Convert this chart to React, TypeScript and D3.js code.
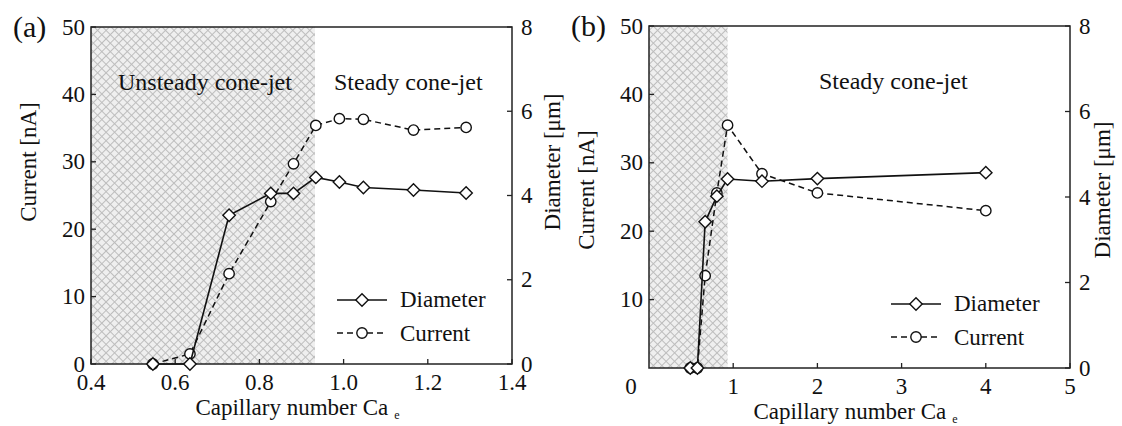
import React from "react";
import * as d3 from "d3";

// ---------- data ----------
const capA = [0.547, 0.635, 0.728, 0.827, 0.881, 0.934, 0.99, 1.047, 1.166, 1.291];
const diameterA = [0, 0, 3.53, 4.05, 4.05, 4.43, 4.32, 4.19, 4.13, 4.06];
const currentA = [0, 1.5, 13.4, 24.1, 29.7, 35.4, 36.4, 36.3, 34.7, 35.1];

const capB = [0.49, 0.575, 0.667, 0.806, 0.933, 1.342, 2.0, 4.0];
const diameterB = [0, 0, 3.42, 4.02, 4.42, 4.37, 4.43, 4.57];
const currentB = [0, 0, 13.5, 25.6, 35.5, 28.4, 25.6, 23.0];

const xTicksA = [0.4, 0.6, 0.8, 1.0, 1.2, 1.4];
const xTicksB = [1, 2, 3, 4, 5];
const currentTicksA = [0, 10, 20, 30, 40, 50];
const currentTicksB = [10, 20, 30, 40, 50];
const diameterTicks = [0, 2, 4, 6, 8];

const FONT = "Liberation Serif, Times New Roman, DejaVu Serif, serif";

type PanelProps = {
  letter: string;
  left: number;
  right: number;
  top: number;
  bottom: number;
  xDomain: [number, number];
  xTicks: number[];
  xFmt: (v: number) => string;
  cTicks: number[];
  caps: number[];
  diam: number[];
  curr: number[];
  unsteadyEnd: number;
  regionLabels: { text: string; x: number }[];
  legendX: number;
  legendY: number;
  titleY: number;
  rightTitleX: number;
  zeroLabel?: { x: number };
};

function Panel(p: PanelProps) {
  const x = d3.scaleLinear().domain(p.xDomain).range([p.left, p.right]);
  const yC = d3.scaleLinear().domain([0, 50]).range([p.bottom, p.top]);
  const yD = d3.scaleLinear().domain([0, 8]).range([p.bottom, p.top]);
  const idx = d3.range(p.caps.length);
  const lineD = d3
    .line<number>()
    .x((i) => x(p.caps[i]))
    .y((i) => yD(p.diam[i]))(idx);
  const lineC = d3
    .line<number>()
    .x((i) => x(p.caps[i]))
    .y((i) => yC(p.curr[i]))(idx);
  const dia = (cx: number, cy: number, s = 6.2) =>
    `M${cx},${cy - s}L${cx + s},${cy}L${cx},${cy + s}L${cx - s},${cy}Z`;
  const fs = 23;
  const tickLen = 5;
  const tStyle = { fontFamily: FONT, fontSize: fs, fill: "#111" } as React.CSSProperties;
  return (
    <g>
      <rect
        x={p.left}
        y={p.top}
        width={x(p.unsteadyEnd) - p.left}
        height={p.bottom - p.top}
        fill={`url(#hatch)`}
      />
      <rect
        x={p.left}
        y={p.top}
        width={p.right - p.left}
        height={p.bottom - p.top}
        fill="none"
        stroke="#222"
        strokeWidth={1.5}
      />
      {p.xTicks.map((t) => (
        <g key={"xt" + t}>
          <line x1={x(t)} x2={x(t)} y1={p.bottom} y2={p.bottom - tickLen} stroke="#222" strokeWidth={1.3} />
          <text x={x(t)} y={p.bottom + 26} textAnchor="middle" style={tStyle}>
            {p.xFmt(t)}
          </text>
        </g>
      ))}
      {p.zeroLabel && (
        <text x={p.zeroLabel.x} y={p.bottom + 26} textAnchor="middle" style={tStyle}>
          0
        </text>
      )}
      {p.cTicks.map((t) => (
        <g key={"yc" + t}>
          <line x1={p.left} x2={p.left + tickLen} y1={yC(t)} y2={yC(t)} stroke="#222" strokeWidth={1.3} />
          <text x={p.left - 6} y={yC(t)} dy="0.33em" textAnchor="end" style={tStyle}>
            {t}
          </text>
        </g>
      ))}
      {diameterTicks.map((t) => (
        <g key={"yd" + t}>
          <line x1={p.right} x2={p.right - tickLen} y1={yD(t)} y2={yD(t)} stroke="#222" strokeWidth={1.3} />
          <text x={p.right + 9} y={yD(t)} dy="0.33em" textAnchor="start" style={tStyle}>
            {t}
          </text>
        </g>
      ))}
      <text transform={`translate(${p.left - 55},${p.titleY}) rotate(-90)`} textAnchor="middle" style={tStyle}>
        Current [nA]
      </text>
      <text transform={`translate(${p.rightTitleX},${p.titleY}) rotate(-90)`} textAnchor="middle" style={tStyle}>
        Diameter [μm]
      </text>
      <text x={(p.left + p.right) / 2 - 4} y={p.bottom + 51} textAnchor="middle" style={tStyle}>
        Capillary number Ca
        <tspan style={{ fontSize: 12 }} dx={6} dy={4}>
          e
        </tspan>
      </text>
      <text x={p.left - 78} y={p.top + 10} style={{ ...tStyle, fontSize: 30 }}>
        {p.letter}
      </text>
      {p.regionLabels.map((r) => (
        <text key={r.text} x={r.x} y={p.top + 63} style={{ ...tStyle, fontSize: 24 }}>
          {r.text}
        </text>
      ))}
      <path d={lineC || ""} fill="none" stroke="#111" strokeWidth={1.5} strokeDasharray="6,4" />
      {idx.map((i) => (
        <circle key={"c" + i} cx={x(p.caps[i])} cy={yC(p.curr[i])} r={5.2} fill="#fff" stroke="#111" strokeWidth={1.4} />
      ))}
      <path d={lineD || ""} fill="none" stroke="#111" strokeWidth={1.6} />
      {idx.map((i) => (
        <path key={"d" + i} d={dia(x(p.caps[i]), yD(p.diam[i]))} fill="#fff" stroke="#111" strokeWidth={1.4} />
      ))}
      <g>
        <line x1={p.legendX} x2={p.legendX + 50} y1={p.legendY} y2={p.legendY} stroke="#111" strokeWidth={1.6} />
        <path d={dia(p.legendX + 25, p.legendY)} fill="#fff" stroke="#111" strokeWidth={1.4} />
        <text x={p.legendX + 63} y={p.legendY + 7} style={tStyle}>
          Diameter
        </text>
        <line
          x1={p.legendX}
          x2={p.legendX + 50}
          y1={p.legendY + 33}
          y2={p.legendY + 33}
          stroke="#111"
          strokeWidth={1.5}
          strokeDasharray="6,4"
        />
        <circle cx={p.legendX + 25} cy={p.legendY + 33} r={5.2} fill="#fff" stroke="#111" strokeWidth={1.4} />
        <text x={p.legendX + 63} y={p.legendY + 41} style={tStyle}>
          Current
        </text>
      </g>
    </g>
  );
}

export default function App() {
  return (
    <svg width={1122} height={426} style={{ display: "block", position: "absolute", left: 0, top: 0 }}>
      <defs>
        <pattern id="hatch" width={6} height={6} patternUnits="userSpaceOnUse" patternTransform="rotate(45)">
          <rect width={6} height={6} fill="#efefef" />
          <path d="M0,0.5H6M0.5,0V6" stroke="#bdbdbd" strokeWidth={1} />
        </pattern>
      </defs>
      <rect width={1122} height={426} fill="#fff" />
      <Panel
        letter="(a)"
        left={91}
        right={512}
        top={27}
        bottom={364}
        xDomain={[0.4, 1.4]}
        xTicks={xTicksA}
        xFmt={(v) => v.toFixed(1)}
        cTicks={currentTicksA}
        caps={capA}
        diam={diameterA}
        curr={currentA}
        unsteadyEnd={0.932}
        regionLabels={[
          { text: "Unsteady cone-jet", x: 118 },
          { text: "Steady cone-jet", x: 334 },
        ]}
        legendX={337}
        legendY={300}
        titleY={162}
        rightTitleX={560}
      />
      <Panel
        letter="(b)"
        left={649}
        right={1070}
        top={26}
        bottom={368}
        xDomain={[0, 5]}
        xTicks={xTicksB}
        xFmt={(v) => String(v)}
        cTicks={currentTicksB}
        caps={capB}
        diam={diameterB}
        curr={currentB}
        unsteadyEnd={0.933}
        regionLabels={[{ text: "Steady cone-jet", x: 819 }]}
        legendX={891}
        legendY={304}
        titleY={190}
        rightTitleX={1110}
        zeroLabel={{ x: 631 }}
      />
    </svg>
  );
}
